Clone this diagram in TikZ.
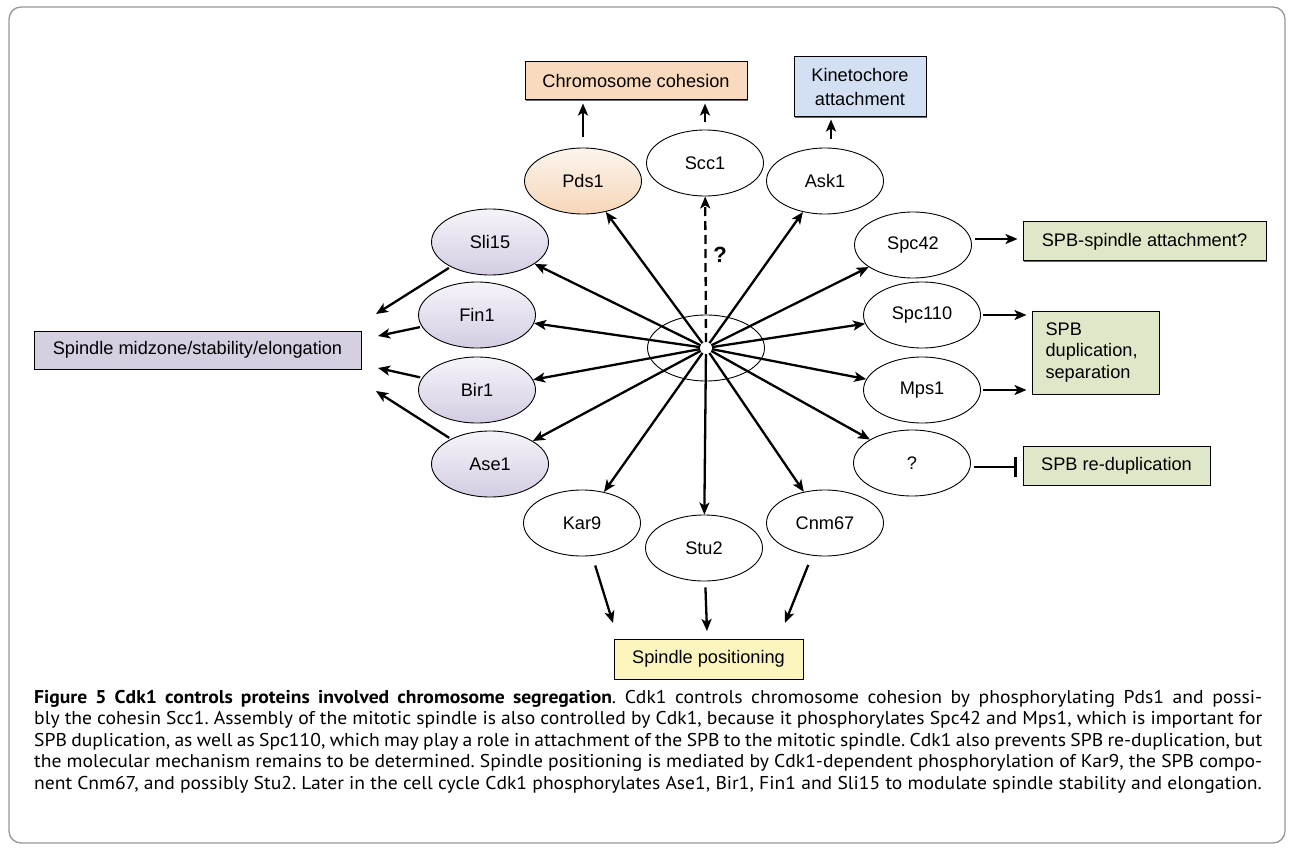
\documentclass[tikz,border=0pt]{standalone}
\usepackage{fontspec}
\setmainfont{Liberation Sans}
\newfontfamily\capfont[FakeStretch=1.06]{PT Sans}
\usetikzlibrary{arrows.meta,shapes.geometric,shadows}
\definecolor{peach}{RGB}{250,218,190}
\definecolor{lblue}{RGB}{211,224,244}
\definecolor{lgreen}{RGB}{222,232,200}
\definecolor{lav}{RGB}{214,206,225}
\definecolor{lyellow}{RGB}{252,245,190}
\definecolor{pdsT}{RGB}{253,245,237}
\definecolor{pdsB}{RGB}{246,214,184}
\definecolor{purT}{RGB}{246,244,250}
\definecolor{purB}{RGB}{212,204,226}
\definecolor{framegray}{RGB}{150,150,150}
\tikzset{
  prot/.style={ellipse, draw, line width=0.9pt, minimum width=117pt, minimum height=66pt, inner sep=0pt, fill=white},
  purp/.style={prot, top color=purT, bottom color=purB},
  pdsstyle/.style={prot, top color=pdsT, bottom color=pdsB},
  fbox/.style={draw, line width=1pt, inner sep=0pt,
    drop shadow={shadow xshift=1.2pt, shadow yshift=-1.2pt, fill=black!75, opacity=0.8}},
  arr/.style={line width=2.3pt, -{Stealth[length=12pt,width=10pt,inset=3pt]}},
  inhib/.style={line width=2.3pt, -{Bar[width=20pt,line width=2.3pt]}},
  capline/.style={anchor=base west, inner sep=0pt, font=\capfont\frenchspacing\fontsize{18.5}{22}\selectfont}
}
\begin{document}
\begin{tikzpicture}[x=1pt,y=-1pt, font=\fontsize{18.2}{21}\selectfont]
\useasboundingbox (0,0) rectangle (1292,850);
\draw[framegray, line width=1.3pt, rounded corners=12pt] (9,7) rectangle (1285,843);

% outcome boxes
\node[fbox, fill=peach, minimum width=222pt, minimum height=38pt] (CC) at (636,81) {Chromosome cohesion};
\node[fbox, fill=lblue, minimum width=132pt, minimum height=60pt, align=center, font=\fontsize{18.2}{23.5}\selectfont] (KA) at (860,87) {Kinetochore\\attachment};
\node[fbox, fill=lgreen, minimum width=243pt, minimum height=39pt] (SA) at (1144.5,241.5) {SPB-spindle attachment?};
\node[fbox, fill=lgreen, minimum width=127pt, minimum height=83pt, align=left, text width=100pt, font=\fontsize{18.2}{21.5}\selectfont] (SD) at (1095.5,352.5) {SPB\\duplication,\\separation};
\node[fbox, fill=lgreen, minimum width=187pt, minimum height=39pt] (RD) at (1116.5,465.5) {SPB re-duplication};
\node[fbox, fill=lav, minimum width=327pt, minimum height=38pt] (MZ) at (197.5,350) {Spindle midzone/stability/elongation};
\node[fbox, fill=lyellow, minimum width=189pt, minimum height=40pt] (SP) at (708.5,659) {Spindle positioning};

% center
\node[prot, fill=none] (C) at (706,348) {};

% proteins
\node[pdsstyle] (Pds1) at (583,181) {Pds1};
\node[prot] (Scc1) at (705,163) {Scc1};
\node[prot] (Ask1) at (825,181) {Ask1};
\node[prot] (Spc42) at (913,245) {Spc42};
\node[prot] (Spc110) at (922,315) {Spc110};
\node[prot] (Mps1) at (922,390) {Mps1};
\node[prot] (Q) at (912,463) {?};
\node[prot] (Cnm67) at (825,523) {Cnm67};
\node[prot] (Stu2) at (704,548) {Stu2};
\node[prot] (Kar9) at (582,523) {Kar9};
\node[purp] (Sli15) at (490,242) {Sli15};
\node[purp] (Fin1) at (477,315) {Fin1};
\node[purp] (Bir1) at (477,390) {Bir1};
\node[purp] (Ase1) at (490,464) {Ase1};

% free ends
\coordinate (m1) at (376,314);
\coordinate (m2) at (378,336);
\coordinate (m3) at (378,368);
\coordinate (m4) at (376,391);
\coordinate (p1) at (613,623);
\coordinate (p2) at (707,631);
\coordinate (p3) at (785,623);

% radial arrows
\foreach \n in {Pds1,Ask1,Spc42,Spc110,Mps1,Q,Cnm67,Stu2,Kar9,Ase1,Bir1,Fin1,Sli15}
  \draw[arr, shorten <=6pt] (C.center) -- (\n);
\draw[arr, dashed, dash pattern=on 9pt off 5pt, shorten <=6pt] (C.center) -- (Scc1);
\node[font=\bfseries\fontsize{22}{24}\selectfont] (qm) at (720,255) {?};

% top arrows
\draw[arr, shorten <=11pt, shorten >=3pt] (Pds1.north) -- (Pds1.north |- CC.south);
\draw[arr, shorten <=8pt, shorten >=3pt] (Scc1.north) -- (Scc1.north |- CC.south);
\draw[arr, shorten <=9pt, shorten >=2pt] ([xshift=6pt]Ask1.north) -- ([xshift=6pt]Ask1.north |- KA.south);

% right arrows
\draw[arr, shorten <=3pt, shorten >=5pt] ([yshift=6pt]Spc42.east) -- ([yshift=6pt]Spc42.east -| SA.west);
\draw[arr, shorten <=2pt, shorten >=5pt] (Spc110.east) -- (Spc110.east -| SD.west);
\draw[arr, shorten <=2pt, shorten >=5pt] (Mps1.east) -- (Mps1.east -| SD.west);
\draw[inhib, shorten <=3pt, shorten >=6pt] ([yshift=-4pt]Q.east) -- ([yshift=-4pt]Q.east -| RD.west);

% left arrows
\draw[arr, shorten <=2pt] (Sli15) -- (m1);
\draw[arr, shorten <=2pt] (Fin1) -- (m2);
\draw[arr, shorten <=2pt] (Bir1) -- (m3);
\draw[arr, shorten <=2pt] (Ase1) -- (m4);

% bottom arrows
\draw[arr, shorten <=10pt] (Kar9) -- (p1);
\draw[arr, shorten <=6pt] (Stu2) -- (p2);
\draw[arr, shorten <=10pt] (Cnm67) -- (p3);

% caption
\node[capline] (cap1) at (34,703) {\makebox[1228pt][s]{\textbf{Figure 5 Cdk1 controls proteins involved chromosome segregation}. Cdk1 controls chromosome cohesion by phosphorylating Pds1 and possi-}};
\node[capline] (cap2) at (34,724.5) {\makebox[1228pt][s]{bly the cohesin Scc1. Assembly of the mitotic spindle is also controlled by Cdk1, because it phosphorylates Spc42 and Mps1, which is important for}};
\node[capline] (cap3) at (34,746) {\makebox[1228pt][s]{SPB duplication, as well as Spc110, which may play a role in attachment of the SPB to the mitotic spindle. Cdk1 also prevents SPB re-duplication, but}};
\node[capline] (cap4) at (34,767.5) {\makebox[1228pt][s]{the molecular mechanism remains to be determined. Spindle positioning is mediated by Cdk1-dependent phosphorylation of Kar9, the SPB compo-}};
\node[capline] (cap5) at (34,789) {nent Cnm67, and possibly Stu2. Later in the cell cycle Cdk1 phosphorylates Ase1, Bir1, Fin1 and Sli15 to modulate spindle stability and elongation.};
\end{tikzpicture}
\end{document}
